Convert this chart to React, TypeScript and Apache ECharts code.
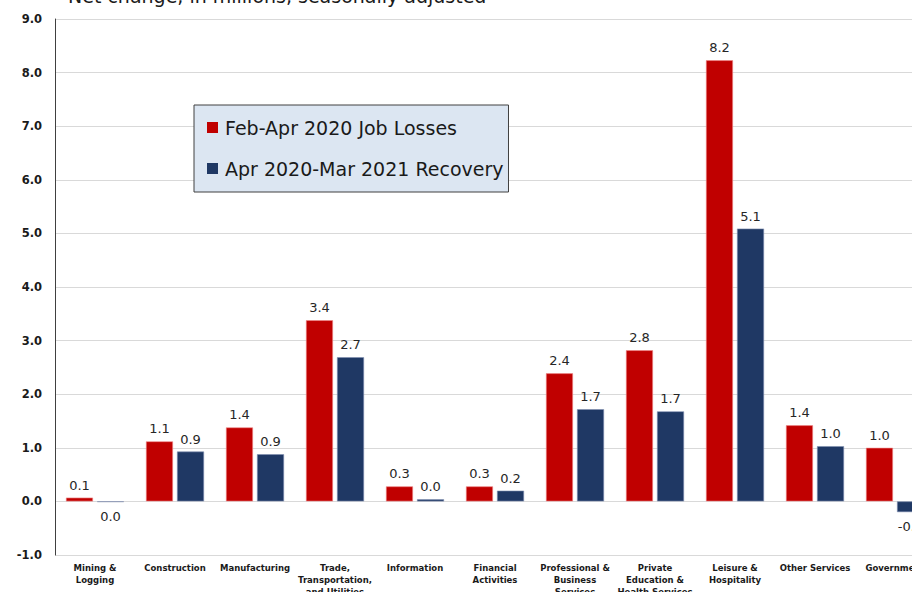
import React, { useEffect, useRef } from "react";
import * as echarts from "echarts";

const categories = [
  "Mining &\nLogging",
  "Construction",
  "Manufacturing",
  "Trade,\nTransportation,\nand Utilities",
  "Information",
  "Financial\nActivities",
  "Professional &\nBusiness\nServices",
  "Private\nEducation &\nHealth Services",
  "Leisure &\nHospitality",
  "Other Services",
  "Government",
];
const jobLosses = [0.07, 1.12, 1.38, 3.38, 0.28, 0.28, 2.39, 2.82, 8.23, 1.42, 1.0];
const recovery = [-0.01, 0.93, 0.88, 2.69, 0.04, 0.2, 1.72, 1.68, 5.09, 1.03, -0.2];
const seriesNames = ["Feb-Apr 2020 Job Losses", "Apr 2020-Mar 2021 Recovery"];
const titleText = "Net change, in millions, seasonally adjusted";

const fmt = (v: number) => {
  const s = v.toFixed(1);
  return s === "-0.0" ? "0.0" : s;
};

export default function App() {
  const ref = useRef<HTMLDivElement>(null);
  useEffect(() => {
    if (!ref.current) return;
    const chart = echarts.init(ref.current, undefined, { renderer: "svg" });
    const labelCfg = {
      show: true,
      position: "top" as const,
      distance: 6,
      fontFamily: "DejaVu Sans",
      fontSize: 13,
      color: "#262626",
      formatter: (p: any) => fmt(p.value),
    };
    chart.setOption({
      animation: false,
      backgroundColor: "#ffffff",
      title: {
        text: titleText,
        left: 63,
        top: 11,
        textStyle: {
          fontFamily: "DejaVu Sans",
          fontSize: 19,
          fontWeight: "normal",
          color: "#1a1a1a",
        },
      },
      legend: {
        orient: "vertical",
        left: 194,
        top: 135,
        padding: [13, 5, 14, 13],
        itemGap: 22,
        itemWidth: 11,
        itemHeight: 11,
        backgroundColor: "#DCE6F2",
        borderColor: "#404040",
        borderWidth: 1,
        icon: "rect",
        itemStyle: { borderWidth: 0 },
        textStyle: {
          fontFamily: "DejaVu Sans",
          fontSize: 19,
          color: "#1a1a1a",
          padding: [0, 0, 0, 2],
        },
        data: seriesNames,
      },
      grid: {
        left: 55,
        top: 49,
        width: 880,
        height: 536,
        containLabel: false,
      },
      xAxis: {
        type: "category",
        data: categories,
        position: "bottom",
        axisLine: { show: false },
        axisTick: { show: false },
        axisLabel: {
          interval: 0,
          margin: 7,
          fontFamily: "DejaVu Sans",
          fontWeight: "bold",
          fontSize: 8.5,
          lineHeight: 12,
          color: "#1a1a1a",
        },
      },
      yAxis: {
        type: "value",
        min: -1,
        max: 9,
        interval: 1,
        axisLine: { show: true, lineStyle: { color: "#404040", width: 1 } },
        axisTick: { show: false },
        splitLine: { show: true, lineStyle: { color: "#d9d9d9", width: 1 } },
        axisLabel: {
          margin: 13,
          fontFamily: "DejaVu Sans",
          fontWeight: "bold",
          fontSize: 11.5,
          color: "#1a1a1a",
          formatter: (v: number) => v.toFixed(1),
        },
      },
      series: [
        {
          name: seriesNames[0],
          type: "bar",
          data: jobLosses,
          barWidth: 27,
          barGap: "15%",
          itemStyle: { color: "#C00000", borderColor: "#f08a8a", borderWidth: 0.6 },
          label: labelCfg,
        },
        {
          name: seriesNames[1],
          type: "bar",
          data: recovery.map((v) =>
            v < 0 ? { value: v, label: { position: "bottom", distance: 8 } } : v
          ),
          barWidth: 27,
          itemStyle: { color: "#1F3864", borderColor: "#7f8fb0", borderWidth: 0.6 },
          label: labelCfg,
        },
      ],
    });
    return () => chart.dispose();
  }, []);
  return (
    <div
      ref={ref}
      style={{ position: "absolute", left: 0, top: -30, width: 960, height: 640 }}
    />
  );
}
